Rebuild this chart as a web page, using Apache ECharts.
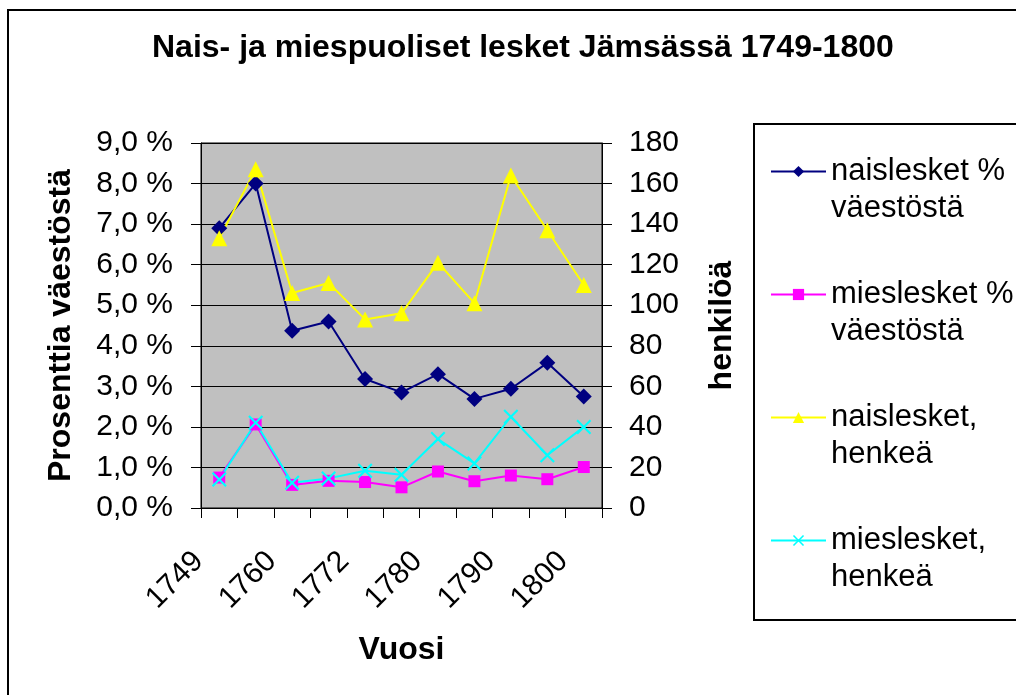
<!DOCTYPE html>
<html>
<head>
<meta charset="utf-8">
<script src="https://cdn.jsdelivr.net/npm/echarts@6/dist/echarts.min.js"></script>
<style>
html, body { margin: 0; padding: 0; background: #fff; }
#main { width: 1016px; height: 695px; }
</style>
</head>
<body>
<div id="main"></div>
<script>
// years (only every other one is labelled on the axis)
var years = ['1749', '1754', '1760', '1765', '1772', '1775', '1780', '1785', '1790', '1795', '1800']

// left axis, percent of population
var naisPct = [6.9, 8.0, 4.37, 4.6, 3.18, 2.85, 3.3, 2.69, 2.94, 3.58, 2.75]
var miesPct = [0.75, 2.06, 0.57, 0.67, 0.64, 0.51, 0.9, 0.66, 0.8, 0.71, 1.01]

// right axis, persons
var naisHenkea = [133, 167, 106, 111, 93, 96, 121, 101, 164, 137, 110]
var miesHenkea = [14, 42, 12.5, 14.6, 18.4, 16.4, 34, 22, 45, 26, 40]

var seriesNames = ['naislesket % väestöstä', 'mieslesket % väestöstä', 'naislesket, henkeä', 'mieslesket, henkeä']

var font = 'Liberation Sans, Arial, sans-serif'
var crossPath = 'path://M0,1L1,0L5,4L9,0L10,1L6,5L10,9L9,10L5,6L1,10L0,9L4,5Z'

var chart = echarts.init(document.getElementById('main'))

function lineSeries(name, data, axis, color, symbol, size) {
  return {
    name: name,
    type: 'line',
    yAxisIndex: axis,
    data: data,
    symbol: symbol,
    symbolSize: size,
    showAllSymbol: true,
    lineStyle: { color: color, width: 2 },
    itemStyle: { color: color },
    emphasis: { disabled: true },
    animation: false
  }
}

chart.setOption({
  backgroundColor: '#fff',
  animation: false,
  title: {
    text: 'Nais- ja miespuoliset lesket Jämsässä 1749-1800',
    left: 147,
    top: 27,
    textStyle: { fontFamily: font, fontSize: 32, fontWeight: 'bold', color: '#000' }
  },
  graphic: [
    { type: 'rect', shape: { x: 8, y: 10, width: 1100, height: 1000 }, style: { fill: 'none', stroke: '#000', lineWidth: 2 }, z: -1 },
    { type: 'rect', shape: { x: 754, y: 124, width: 400, height: 496 }, style: { fill: 'none', stroke: '#000', lineWidth: 2 }, z: -1 }
  ],
  legend: {
    orient: 'vertical',
    left: 765,
    top: 111,
    itemWidth: 55,
    itemHeight: 14,
    itemGap: 12,
    data: seriesNames,
    // blank first line so the icon sits level with the first text line
    formatter: function (name) {
      var i = name.lastIndexOf(' ')
      return ' \n' + name.slice(0, i) + '\n' + name.slice(i + 1)
    },
    textStyle: { fontFamily: font, fontSize: 31, lineHeight: 37, color: '#000' }
  },
  grid: { left: 201, top: 143, width: 401, height: 365, show: true, backgroundColor: '#c0c0c0', borderColor: '#000', borderWidth: 1 },
  xAxis: {
    type: 'category',
    data: years,
    boundaryGap: true,
    name: 'Vuosi',
    nameLocation: 'middle',
    nameGap: 126,
    nameTextStyle: { fontFamily: font, fontSize: 32, fontWeight: 'bold', color: '#000' },
    axisLine: { lineStyle: { color: '#000', width: 1 } },
    axisTick: { show: true, length: 10, interval: 0, lineStyle: { color: '#000' } },
    axisLabel: { interval: 1, rotate: 45, margin: 28, padding: [0, 29, 0, 0], fontFamily: font, fontSize: 30, color: '#000' },
    splitLine: { show: false }
  },
  yAxis: [
    {
      type: 'value',
      min: 0, max: 9, interval: 1,
      name: 'Prosenttia väestöstä',
      nameLocation: 'middle',
      nameRotate: 90,
      nameGap: 124,
      nameTextStyle: { fontFamily: font, fontSize: 32, fontWeight: 'bold', color: '#000' },
      axisLine: { show: true, lineStyle: { color: '#000' } },
      axisTick: { show: true, length: 10, lineStyle: { color: '#000' } },
      axisLabel: {
        margin: 28, fontFamily: font, fontSize: 30, color: '#000',
        formatter: function (v) { return v.toFixed(1).replace('.', ',') + ' %' }
      },
      splitLine: { show: true, lineStyle: { color: '#000', width: 1 } }
    },
    {
      type: 'value',
      min: 0, max: 180, interval: 20,
      name: 'henkilöä',
      nameLocation: 'middle',
      nameRotate: 90,
      nameGap: 104,
      nameTextStyle: { fontFamily: font, fontSize: 32, fontWeight: 'bold', color: '#000' },
      axisLine: { show: true, lineStyle: { color: '#000' } },
      axisTick: { show: true, length: 10, lineStyle: { color: '#000' } },
      axisLabel: { margin: 27, fontFamily: font, fontSize: 30, color: '#000' },
      splitLine: { show: false }
    }
  ],
  series: [
    lineSeries(seriesNames[0], naisPct, 0, '#000080', 'diamond', 16),
    lineSeries(seriesNames[1], miesPct, 0, '#ff00ff', 'rect', 12),
    lineSeries(seriesNames[2], naisHenkea, 1, '#ffff00', 'triangle', 16),
    lineSeries(seriesNames[3], miesHenkea, 1, '#00ffff', crossPath, 15)
  ]
})
</script>
</body>
</html>
